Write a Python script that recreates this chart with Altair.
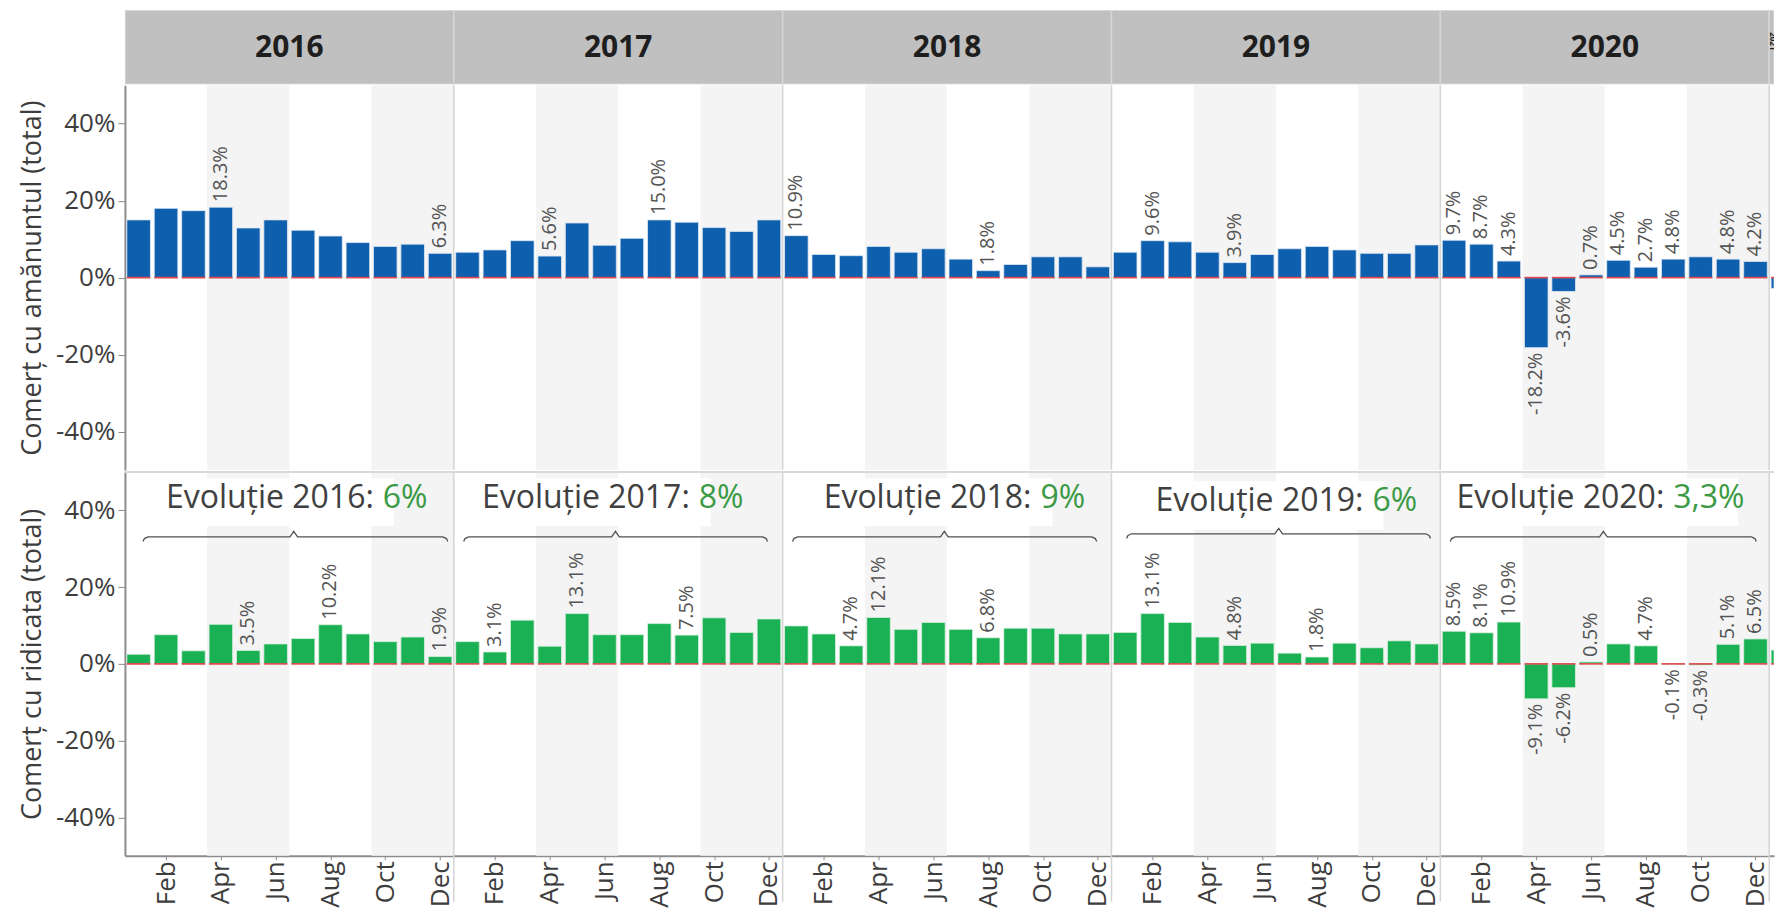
import altair as alt
import pandas as pd

# ---------------- data ----------------
YEARS = [2016, 2017, 2018, 2019, 2020, 2021]
MONTHS = ["Jan", "Feb", "Mar", "Apr", "May", "Jun", "Jul", "Aug", "Sep", "Oct", "Nov", "Dec"]

# Comerț cu amănuntul (total) – monthly growth, %
RETAIL_2016 = [15.0, 18.0, 17.4, 18.3, 12.9, 15.0, 12.3, 10.8, 9.1, 8.1, 8.7, 6.3]
RETAIL_2017 = [6.6, 7.2, 9.6, 5.6, 14.2, 8.4, 10.2, 15.0, 14.4, 13.0, 12.0, 15.0]
RETAIL_2018 = [10.9, 6.0, 5.7, 8.1, 6.6, 7.5, 4.8, 1.8, 3.4, 5.4, 5.4, 2.8]
RETAIL_2019 = [6.6, 9.6, 9.3, 6.6, 3.9, 6.0, 7.5, 8.1, 7.2, 6.3, 6.3, 8.5]
RETAIL_2020 = [9.7, 8.7, 4.3, -18.2, -3.6, 0.7, 4.5, 2.7, 4.8, 5.4, 4.8, 4.2]
RETAIL_2021 = [-2.8]

# Comerț cu ridicata (total) – monthly growth, %
WHOLE_2016 = [2.5, 7.6, 3.4, 10.3, 3.5, 5.2, 6.6, 10.2, 7.8, 5.8, 7.0, 1.9]
WHOLE_2017 = [5.8, 3.1, 11.4, 4.6, 13.1, 7.6, 7.6, 10.5, 7.5, 12.0, 8.2, 11.7]
WHOLE_2018 = [9.9, 7.8, 4.7, 12.1, 9.0, 10.8, 9.0, 6.8, 9.3, 9.3, 7.8, 7.8]
WHOLE_2019 = [8.2, 13.1, 10.8, 7.0, 4.8, 5.4, 2.8, 1.8, 5.4, 4.2, 6.0, 5.2]
WHOLE_2020 = [8.5, 8.1, 10.9, -9.1, -6.2, 0.5, 5.2, 4.7, -0.1, -0.3, 5.1, 6.5]
WHOLE_2021 = [3.6]

# months (counted from Jan 2016) whose bar carries a value label
RETAIL_LABELED = [3, 11, 15, 19, 24, 31, 37, 40, 48, 49, 50, 51, 52, 53, 54, 55, 56, 58, 59, 60]
WHOLE_LABELED = [4, 7, 11, 13, 16, 20, 26, 27, 31, 37, 40, 43, 48, 49, 50, 51, 52, 53, 55, 56, 57, 58, 59, 60]

SHADED_QUARTERS = [2, 4]
Y_TICKS = [-40, -20, 0, 20, 40]
X_TICK_MONTHS = [1, 3, 5, 7, 9, 11]  # Feb, Apr, Jun, Aug, Oct, Dec

# yearly evolution annotations
EVOL_YEARS = [2016, 2017, 2018, 2019, 2020]
EVOL_VALUES = ["6%", "8%", "9%", "6%", "3,3%"]
EVOL_SPLIT = [9.41, 8.94, 9.41, 9.52, 8.5]      # where the green value starts (months into year)
EVOL_BASE = [40.6, 40.6, 40.6, 39.8, 40.6]      # text baseline (%)
BOX_START = [1.3, 1.0, 1.4, 1.5, 0.55]
BOX_END = [9.81, 9.37, 9.85, 9.92, 10.87]
BOX_TOP = [48.4, 48.4, 48.4, 47.6, 48.4]
BOX_BOTTOM = [35.9, 35.9, 35.9, 34.9, 35.9]
BRACE_START = [0.66, 0.36, 0.36, 0.55, 0.36]
BRACE_END = [11.78, 11.45, 11.46, 11.64, 11.53]
BRACE_TIP = [6.16, 5.9, 5.9, 6.1, 5.95]
BRACE_Y = [33.1, 33.1, 33.1, 33.9, 33.1]

# ---------------- layout / style ----------------
FONT = "Open Sans"
W = 1650
MONTH_PX = 27.42
XMAX = W / MONTH_PX
H_HEAD = 74
H_TOP = 385
H_BOT = 384
XS = alt.Scale(domain=[0, XMAX], nice=False, zero=False)
YS = alt.Scale(domain=[-50, 50], nice=False, zero=False)
AXIS_GRAY = "#8c8c8c"
TEXT_GRAY = "#3d3d3d"
SEP_GRAY = "#d4d4d4"
BAND_GRAY = "#f4f4f4"

# ---------------- tables ----------------
retail = RETAIL_2016 + RETAIL_2017 + RETAIL_2018 + RETAIL_2019 + RETAIL_2020 + RETAIL_2021
whole = WHOLE_2016 + WHOLE_2017 + WHOLE_2018 + WHOLE_2019 + WHOLE_2020 + WHOLE_2021
n = len(retail)
df = pd.DataFrame({
    "m": list(range(n)),
    "retail": retail,
    "whole": whole,
})
df["x0"] = df["m"] + 0.07
df["x1"] = (df["m"] + 0.93).clip(upper=XMAX)
df["xc"] = df["m"] + 0.5
df["zero"] = 0.0
df["rl"] = df["m"].isin(RETAIL_LABELED)
df["wl"] = df["m"].isin(WHOLE_LABELED)

bands = []
for i, y in enumerate(YEARS[:-1]):
    for q in SHADED_QUARTERS:
        s = 12 * i + (q - 1) * 3
        bands.append({"start": s, "end": s + 3})
bands_df = pd.DataFrame(bands)

sep_df = pd.DataFrame({"pos": [12 * i for i in range(1, len(YEARS))]})

head_df = pd.DataFrame({
    "year": [str(y) for y in YEARS],
    "start": [12 * i for i in range(len(YEARS))],
    "end": [min(12 * (i + 1), XMAX) for i in range(len(YEARS))],
})
head_df["center"] = head_df["start"] + 6
head_df["small"] = head_df["start"] + 0.1

ev = []
for i, y in enumerate(EVOL_YEARS):
    b = 12 * i
    ev.append({
        "main": f"Evoluție {y}:", "val": EVOL_VALUES[i],
        "split": b + EVOL_SPLIT[i], "base": EVOL_BASE[i],
        "bx0": b + BOX_START[i], "bx1": b + BOX_END[i],
        "btop": BOX_TOP[i], "bbot": BOX_BOTTOM[i],
    })
ev_df = pd.DataFrame(ev)

br = []
for i, y in enumerate(EVOL_YEARS):
    b = 12 * i
    s, e, c, yy = b + BRACE_START[i], b + BRACE_END[i], b + BRACE_TIP[i], BRACE_Y[i]
    pts = [(s, yy - 1.2), (s + 0.05, yy - 0.45), (s + 0.18, yy), (c - 0.14, yy), (c, yy + 1.4),
           (c + 0.14, yy), (e - 0.18, yy), (e - 0.05, yy - 0.45), (e, yy - 1.2)]
    for k, (px, py) in enumerate(pts):
        br.append({"year": str(y), "k": k, "bx": px, "by": py})
br_df = pd.DataFrame(br)

month_arr = "[" + ",".join(f"'{m}'" for m in MONTHS) + "]"
x_ticks = [12 * i + k + 0.5 for i in range(len(YEARS) - 1) for k in X_TICK_MONTHS]
XAXIS = alt.Axis(values=x_ticks, labelExpr=f"{month_arr}[floor(datum.value) % 12]",
                 labelAngle=270, grid=False, title=None, domainColor=AXIS_GRAY, domainWidth=2,
                 tickColor=AXIS_GRAY, tickSize=4, labelFont=FONT, labelFontSize=26,
                 labelColor=TEXT_GRAY, labelPadding=1, labelOverlap=False, labelFlush=False)


def yaxis(title):
    return alt.Axis(values=Y_TICKS, labelExpr="datum.value + '%'", title=title, grid=False,
                    domainColor=AXIS_GRAY, domainWidth=2, tickColor=AXIS_GRAY, tickSize=7,
                    labelFont=FONT, labelFontSize=26, labelColor=TEXT_GRAY, labelPadding=3,
                    titleFont=FONT, titleFontSize=27, titleFontWeight="normal",
                    titleColor=TEXT_GRAY, titlePadding=9)


def panel(col, lab, color, stroke, title, height, show_x):
    xa = XAXIS if show_x else None
    ya = yaxis(title)

    def X(f):
        return alt.X(f, type="quantitative", scale=XS, axis=xa)

    def Y(f):
        return alt.Y(f, type="quantitative", scale=YS, axis=ya)

    bands_l = alt.Chart(bands_df).mark_rect(color=BAND_GRAY).encode(
        x=X("start"), x2="end", y=alt.value(0), y2=alt.value(height))
    seps = alt.Chart(sep_df).mark_rule(color=SEP_GRAY, strokeWidth=1.5).encode(
        x=X("pos"), y=alt.value(0), y2=alt.value(height + (46 if show_x else 0)))
    bars = alt.Chart(df).mark_rect(clip=True, color=color, stroke=stroke, strokeWidth=0.8).encode(
        x=X("x0"), x2="x1", y=Y(col), y2="zero")
    zero = alt.Chart(df).mark_rule(clip=True, color="#e0474c", strokeWidth=1.6).encode(
        x=X("x0"), x2="x1", y=Y("zero"))
    base_lab = alt.Chart(df).transform_calculate(
        txt=f"(datum.{col} < 0 ? '-' : '') + format(abs(datum.{col}), '.1f') + '%'")
    lab_pos = base_lab.transform_filter(f"datum.{lab} && datum.{col} >= 0").mark_text(
        clip=True, angle=270, align="left", baseline="middle", dx=5, font=FONT,
        fontSize=20, color="#555555").encode(x=X("xc"), y=Y(col), text="txt:N")
    lab_neg = base_lab.transform_filter(f"datum.{lab} && datum.{col} < 0").mark_text(
        clip=True, angle=270, align="right", baseline="middle", dx=-5, font=FONT,
        fontSize=20, color="#555555").encode(x=X("xc"), y=Y(col), text="txt:N")
    return [bands_l, seps, bars, zero, lab_pos, lab_neg], X, Y


# header row
HX = alt.X("start:Q", scale=XS, axis=None)
head_rect = alt.Chart(head_df).mark_rect(clip=True, color="#c0c0c0", stroke="#d6d6d6",
                                         strokeWidth=1.5).encode(
    x=HX, x2="end:Q", y=alt.value(0), y2=alt.value(H_HEAD))
head_text = alt.Chart(head_df).transform_filter("datum.end >= datum.start + 12").mark_text(
    font=FONT, fontSize=30, fontWeight="bold", color="#1e1e1e", baseline="middle").encode(
    x=alt.X("center:Q", scale=XS, axis=None), y=alt.value(H_HEAD / 2 + 1), text="year:N")
head_small = alt.Chart(head_df).transform_filter("datum.end < datum.start + 12").mark_text(
    clip=True, font=FONT, fontSize=8, fontWeight="bold", color="#1e1e1e", angle=90,
    align="left", baseline="middle").encode(
    x=alt.X("small:Q", scale=XS, axis=None), y=alt.value(22), text="year:N")
header = alt.layer(head_rect, head_text, head_small).properties(width=W, height=H_HEAD)

# retail row
top_layers, _, _ = panel("retail", "rl", "#0e5fae", "#dde7f3", "Comerț cu amănuntul (total)",
                         H_TOP, False)
top = alt.layer(*top_layers).properties(width=W, height=H_TOP)

# wholesale row with annotations
layers, BX, BY = panel("whole", "wl", "#19b154", "#d9f0e0", "Comerț cu ridicata (total)",
                       H_BOT, True)
row_line = alt.Chart(sep_df).mark_rule(color="#d9d9d9", strokeWidth=1.5).encode(
    x=alt.value(0), x2=alt.value(W), y=alt.value(0))
boxes = alt.Chart(ev_df).mark_rect(color="white").encode(
    x=BX("bx0"), x2="bx1", y=BY("btop"), y2="bbot")
ev_main = alt.Chart(ev_df).mark_text(align="right", baseline="alphabetic", dx=-9, font=FONT,
                                     fontSize=32, color="#404040").encode(
    x=BX("split"), y=BY("base"), text="main:N")
ev_val = alt.Chart(ev_df).mark_text(align="left", baseline="alphabetic", font=FONT,
                                    fontSize=32, color="#3a9a45").encode(
    x=BX("split"), y=BY("base"), text="val:N")
braces = alt.Chart(br_df).mark_line(color="#505050", strokeWidth=1.3).encode(
    x=BX("bx"), y=BY("by"), detail="year:N", order="k:Q")
bottom = alt.layer(layers[0], boxes, layers[1], *layers[2:], row_line, braces, ev_main,
                   ev_val).properties(width=W, height=H_BOT)

chart = alt.vconcat(header, top, bottom, spacing=0).properties(
    padding={"left": 10, "top": 2, "right": 0, "bottom": 0}
).configure_view(stroke=None).configure_concat(spacing=0)

chart.save("out.html", embed_options={"renderer": "svg", "actions": False})
